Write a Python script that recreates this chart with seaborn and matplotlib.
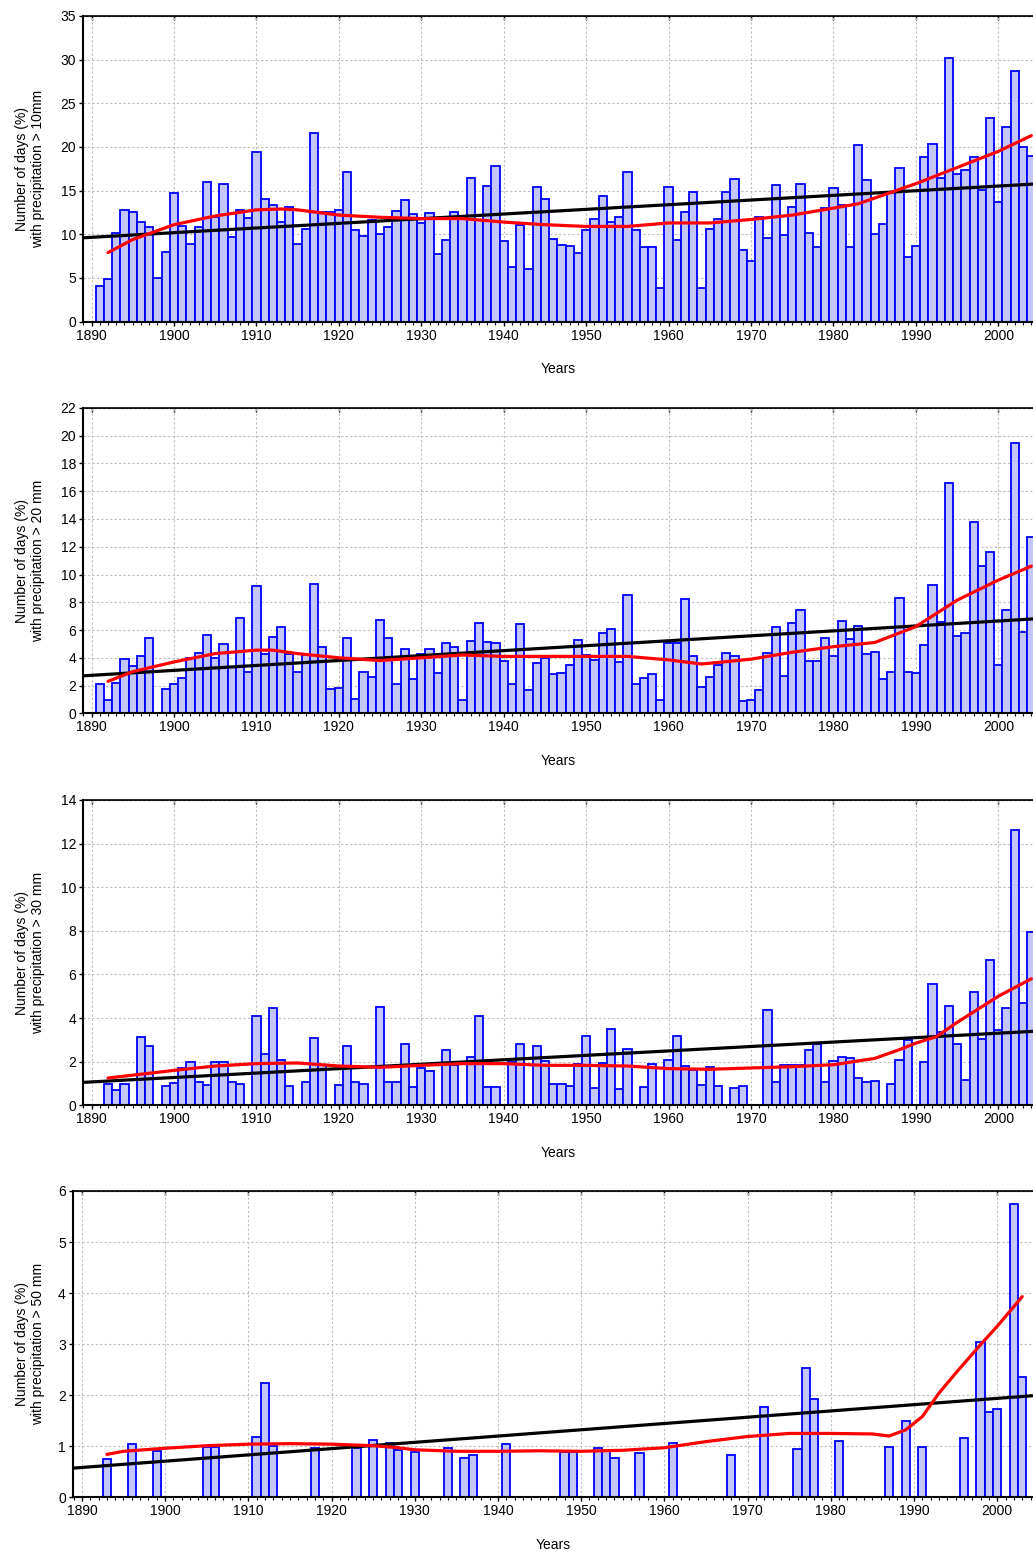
import matplotlib
matplotlib.use("Agg")
import matplotlib.pyplot as plt
import pandas as pd
import seaborn as sns
from matplotlib.ticker import MultipleLocator, NullLocator

sns.set_style("white")
plt.rcParams["font.family"] = ["Liberation Sans", "DejaVu Sans"]
plt.rcParams.update({
    "font.size": 10,
    "text.color": "black",
    "axes.labelcolor": "black",
    "xtick.color": "black",
    "ytick.color": "black",
})

BAR_FILL = "#c3c6f7"
BAR_EDGE = "#0000ff"

# yearly values, 1891-2004
years = list(range(1891, 2005))

days_10mm = [
    4.1, 4.9, 10.2, 12.8, 12.5, 11.4, 10.8, 5.0, 8.0, 14.7,
    11.0, 8.9, 10.8, 16.0, 12.0, 15.8, 9.7, 12.8, 11.9, 19.4,
    14.1, 13.3, 11.4, 13.1, 8.9, 10.6, 21.6, 12.5, 12.5, 12.8,
    17.1, 10.5, 9.8, 11.6, 10.0, 10.8, 12.7, 13.9, 12.3, 11.3,
    12.4, 7.7, 9.3, 12.6, 12.0, 16.4, 11.6, 15.5, 17.8, 9.2,
    6.2, 11.1, 6.0, 15.4, 14.0, 9.5, 8.8, 8.7, 7.9, 10.5,
    11.7, 14.4, 11.4, 12.0, 17.1, 10.5, 8.6, 8.6, 3.9, 15.4,
    9.4, 12.5, 14.8, 3.8, 10.6, 11.7, 14.9, 16.3, 8.2, 7.0,
    12.0, 9.6, 15.6, 9.9, 13.1, 15.8, 10.1, 8.6, 13.0, 15.3,
    13.3, 8.5, 20.2, 16.2, 10.0, 11.2, 14.8, 17.6, 7.4, 8.7,
    18.8, 20.3, 16.5, 30.2, 16.9, 17.4, 18.9, 15.1, 23.3, 13.7,
    22.3, 28.7, 20.0, 19.0,
]

days_20mm = [
    2.1, 0.96, 2.2, 3.9, 3.4, 4.15, 5.45, 0, 1.75, 2.1,
    2.57, 4.0, 4.37, 5.66, 3.96, 4.97, 3.3, 6.9, 3.0, 9.2,
    4.3, 5.5, 6.24, 4.3, 3.0, 4.2, 9.3, 4.75, 1.75, 1.8,
    5.4, 1.0, 2.95, 2.65, 6.75, 5.4, 2.1, 4.6, 2.45, 4.3,
    4.65, 2.9, 5.05, 4.8, 0.96, 5.2, 6.5, 5.15, 5.05, 3.8,
    2.1, 6.45, 1.7, 3.6, 3.95, 2.85, 2.9, 3.5, 5.3, 4.2,
    3.85, 5.75, 6.1, 3.7, 8.5, 2.1, 2.55, 2.85, 0.96, 5.1,
    5.1, 8.2, 4.1, 1.9, 2.65, 3.5, 4.35, 4.1, 0.86, 0.96,
    1.7, 4.35, 6.2, 2.7, 6.5, 7.45, 3.75, 3.8, 5.4, 4.1,
    6.65, 5.35, 6.3, 4.3, 4.45, 2.5, 2.95, 8.3, 3.0, 2.9,
    4.9, 9.25, 6.6, 16.6, 5.6, 5.8, 13.8, 10.6, 11.65, 3.45,
    7.45, 19.5, 5.85, 12.7,
]

days_30mm = [
    0, 0.98, 0.72, 0.98, 0, 3.13, 2.72, 0, 0.9, 1.04,
    1.71, 2.0, 1.07, 0.93, 2.0, 1.97, 1.07, 0.98, 0, 4.08,
    2.35, 4.45, 2.09, 0.87, 0, 1.05, 3.09, 1.85, 0, 0.92,
    2.72, 1.05, 0.98, 0, 4.5, 1.08, 1.07, 2.8, 0.83, 1.72,
    1.57, 0, 2.55, 1.85, 0, 2.23, 4.1, 0.86, 0.86, 0,
    2.0, 2.8, 0, 2.74, 2.03, 0.97, 0.97, 0.9, 1.9, 3.16,
    0.8, 1.93, 3.5, 0.76, 2.57, 0, 0.86, 1.91, 0, 2.06,
    3.16, 1.8, 1.6, 0.95, 1.77, 0.89, 0, 0.81, 0.9, 0,
    0, 4.39, 1.05, 1.83, 1.86, 1.86, 2.55, 2.8, 1.08, 2.05,
    2.22, 2.15, 1.27, 1.08, 1.12, 0, 0.99, 2.09, 2.98, 0,
    1.99, 5.56, 3.36, 4.55, 2.81, 1.16, 5.18, 3.04, 6.66, 3.45,
    4.48, 12.64, 4.7, 7.95,
]

# only the years with at least one day > 50 mm
years_50mm = [1893, 1896, 1899, 1905, 1906, 1911, 1912, 1913, 1918, 1923,
              1925, 1927, 1928, 1930, 1934, 1936, 1937, 1941, 1948, 1949,
              1952, 1953, 1954, 1957, 1961, 1968, 1972, 1976, 1977, 1978,
              1981, 1987, 1989, 1991, 1996, 1998, 1999, 2000, 2002, 2003]
days_50mm = [0.74, 1.05, 0.9, 0.98, 0.98, 1.18, 2.23, 1.0, 0.96, 0.97,
             1.13, 1.07, 0.93, 0.88, 0.97, 0.76, 0.82, 1.05, 0.88, 0.88,
             0.96, 0.9, 0.76, 0.86, 1.06, 0.82, 1.76, 0.94, 2.54, 1.93,
             1.11, 0.99, 1.5, 0.99, 1.17, 3.04, 1.67, 1.73, 5.75, 2.35]

# linear trend (values at the axis ends)
trend_10_x, trend_10_y = [1889, 2004.2], [9.6, 15.75]
trend_20_x, trend_20_y = [1889, 2004.2], [2.7, 6.8]
trend_30_x, trend_30_y = [1889, 2004.2], [1.05, 3.39]
trend_50_x, trend_50_y = [1888.9, 2004.3], [0.57, 1.99]

# smoothed curve
smooth_10_x = [1892, 1895, 1900, 1905, 1910, 1913, 1915, 1920, 1925, 1930, 1935, 1940, 1945,
               1950, 1955, 1960, 1965, 1970, 1975, 1980, 1983, 1985, 1990, 1995, 2000, 2004]
smooth_10_y = [7.9, 9.4, 11.1, 12.1, 12.8, 12.9, 12.8, 12.2, 11.95, 11.8, 11.8, 11.4, 11.1,
               10.9, 10.9, 11.3, 11.3, 11.7, 12.2, 13.0, 13.5, 14.15, 15.8, 17.65, 19.5, 21.3]

smooth_20_x = [1892, 1895, 1900, 1905, 1910, 1912, 1915, 1920, 1925, 1930, 1935, 1940, 1945,
               1950, 1955, 1960, 1964, 1970, 1975, 1980, 1985, 1990, 1995, 2000, 2004]
smooth_20_y = [2.3, 3.0, 3.7, 4.3, 4.55, 4.55, 4.3, 4.0, 3.8, 4.0, 4.2, 4.1, 4.1,
               4.1, 4.1, 3.85, 3.55, 3.9, 4.4, 4.8, 5.1, 6.25, 8.15, 9.6, 10.6]

smooth_30_x = [1892, 1895, 1900, 1905, 1910, 1915, 1920, 1925, 1930, 1935, 1940, 1945, 1950,
               1955, 1960, 1965, 1970, 1975, 1980, 1985, 1988, 1990, 1992.5, 1995, 2000, 2004]
smooth_30_y = [1.25, 1.38, 1.6, 1.8, 1.91, 1.94, 1.8, 1.74, 1.83, 1.91, 1.91, 1.83, 1.83,
               1.8, 1.68, 1.65, 1.71, 1.77, 1.86, 2.15, 2.55, 2.85, 3.15, 3.8, 5.0, 5.8]

smooth_50_x = [1893, 1895, 1900, 1905, 1910, 1915, 1920, 1925, 1928, 1930, 1935, 1940, 1945,
               1950, 1955, 1960, 1965, 1970, 1975, 1980, 1985, 1987, 1989, 1991, 1993, 1995,
               1998, 2000, 2003]
smooth_50_y = [0.84, 0.9, 0.96, 1.01, 1.04, 1.05, 1.04, 1.01, 0.97, 0.93, 0.9, 0.9, 0.91,
               0.9, 0.92, 0.97, 1.09, 1.19, 1.25, 1.25, 1.24, 1.2, 1.32, 1.58, 2.04, 2.43,
               2.99, 3.35, 3.93]

decades = list(range(1890, 2001, 10))


def draw_panel(fig, rect, yrs, vals, trend_x, trend_y, smooth_x, smooth_y,
               ymax, ystep, label, xlim, label_x):
    ax = fig.add_axes(rect)
    df = pd.DataFrame({"Year": yrs, "Days": vals})
    df = df[df["Days"] > 0]
    sns.barplot(data=df, x="Year", y="Days", native_scale=True, width=1.0,
                color=BAR_FILL, saturation=1, edgecolor=BAR_EDGE, linewidth=1.3,
                errorbar=None, ax=ax, zorder=2)
    ax.plot(trend_x, trend_y, color="black", lw=2.3, zorder=3, solid_capstyle="butt")
    ax.plot(smooth_x, smooth_y, color="#ff0000", lw=2.3, zorder=4, solid_joinstyle="round")

    ax.set_xlim(*xlim)
    ax.set_ylim(0, ymax)
    ax.set_xticks(decades)
    ax.set_xticklabels([str(d) for d in decades])
    ax.xaxis.set_minor_locator(MultipleLocator(1))
    ax.set_yticks(range(0, ymax + 1, ystep))
    ax.set_axisbelow(True)
    ax.grid(True, which="major", color="#bdbdbd", linestyle=(0, (2, 2)), linewidth=0.8)

    ax.tick_params(axis="x", which="major", direction="out", length=3, width=1, pad=2, bottom=True)
    ax.tick_params(axis="x", which="minor", direction="out", length=2, width=0.8, bottom=True)
    ax.tick_params(axis="y", which="major", direction="out", length=3, width=1, pad=2, left=True)

    for side in ["left", "bottom"]:
        ax.spines[side].set_linewidth(1.5)
        ax.spines[side].set_color("black")
    ax.spines["top"].set_linewidth(1.2)
    ax.spines["top"].set_color("black")
    ax.spines["right"].set_visible(False)

    top = ax.secondary_xaxis("top")
    top.set_xticks(decades)
    top.xaxis.set_minor_locator(NullLocator())
    top.tick_params(direction="in", length=3, width=1, labeltop=False)

    ax.set_xlabel("Years")
    ax.set_ylabel(label)
    ax.xaxis.set_label_coords(0.5, -0.132)
    ax.yaxis.set_label_coords(label_x, 0.5)
    return ax


fig = plt.figure(figsize=(10.33, 15.53), dpi=100)

draw_panel(fig, [0.0806, 0.7929, 0.9194, 0.1968], years, days_10mm,
           trend_10_x, trend_10_y, smooth_10_x, smooth_10_y, 35, 5,
           "Number of days (%)\nwith precipitation > 10mm", (1889, 2004.2), -0.040)
draw_panel(fig, [0.0806, 0.5407, 0.9194, 0.1966], years, days_20mm,
           trend_20_x, trend_20_y, smooth_20_x, smooth_20_y, 22, 2,
           "Number of days (%)\nwith precipitation > 20 mm", (1889, 2004.2), -0.040)
draw_panel(fig, [0.0806, 0.2883, 0.9194, 0.1966], years, days_30mm,
           trend_30_x, trend_30_y, smooth_30_x, smooth_30_y, 14, 2,
           "Number of days (%)\nwith precipitation > 30 mm", (1889, 2004.2), -0.040)
draw_panel(fig, [0.0704, 0.0359, 0.9296, 0.1972], years_50mm, days_50mm,
           trend_50_x, trend_50_y, smooth_50_x, smooth_50_y, 6, 1,
           "Number of days (%)\nwith precipitation > 50 mm", (1888.9, 2004.3), -0.029)

fig.savefig("out.png", dpi=100)
plt.close(fig)
